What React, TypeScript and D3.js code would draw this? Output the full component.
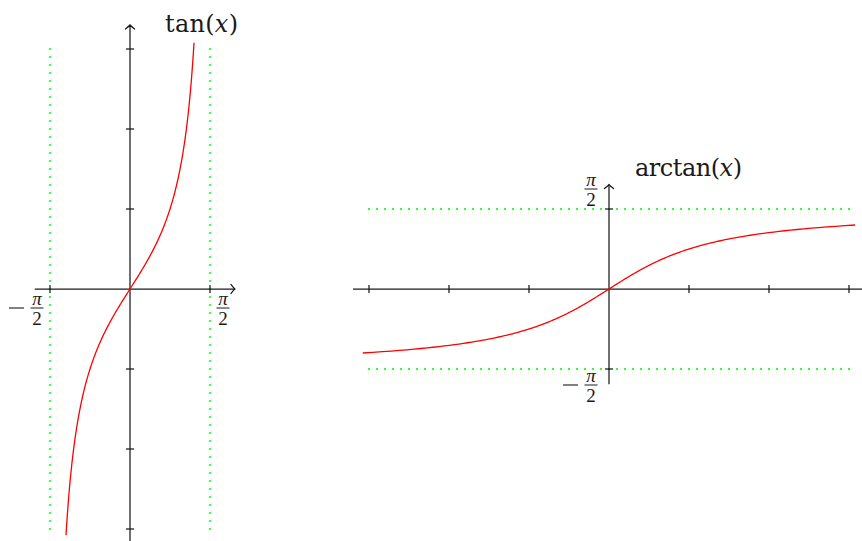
import React from "react";
import * as d3 from "d3";

const W = 862;
const H = 541;
const HALF_PI = Math.PI / 2;

// Parameter range of the plotted branch: t in [-0.4π, 0.4π]
const paramRange = [-0.4 * Math.PI, 0.4 * Math.PI];
const sampleCount = 200;

// Left panel (tan)
const tanXAxis = [-1.87, 2.06];
const tanYAxis = [-3.2, 3.3];
const tanYTicks = [-3, -2, -1, 1, 2, 3];
const tanXTicks = [-HALF_PI, HALF_PI];
const tanAsymptotes = [-HALF_PI, HALF_PI];
const tanAsymptoteSpan = [-3, 3];

// Right panel (arctan)
const atanXAxis = [-3.2, 3.3];
const atanYAxis = [-1.87, 2.05];
const atanXTicks = [-3, -2, -1, 1, 2, 3];
const atanYTicks = [-HALF_PI, HALF_PI];
const atanAsymptotes = [-HALF_PI, HALF_PI];
const atanAsymptoteSpan = [-3, 3];

const FONT = "'DejaVu Serif', 'Liberation Serif', serif";
const FRAC_FONT = "'Liberation Serif', 'DejaVu Serif', serif";
const AXIS = "#1a1a1a";
const RED = "#ff0000";
const GREEN = "#00ff00";
const AXIS_W = 1.25;

const xL = d3.scaleLinear().domain([-HALF_PI, HALF_PI]).range([50, 210]);
const yL = d3.scaleLinear().domain([-3, 3]).range([529, 49]);
const xR = d3.scaleLinear().domain([-3, 3]).range([369, 849]);
const yR = d3.scaleLinear().domain([-HALF_PI, HALF_PI]).range([369, 209]);

const params = d3
  .range(sampleCount + 1)
  .map((i) => paramRange[0] + ((paramRange[1] - paramRange[0]) * i) / sampleCount);

const tanPts: [number, number][] = params.map((t) => [t, Math.tan(t)]);
const atanPts: [number, number][] = params.map((t) => [Math.tan(t), t]);

const tanLine = d3
  .line<[number, number]>()
  .x((d) => xL(d[0]))
  .y((d) => yL(d[1]));
const atanLine = d3
  .line<[number, number]>()
  .x((d) => xR(d[0]))
  .y((d) => yR(d[1]));

function Arrow({ x, y, dir }: { x: number; y: number; dir: "up" | "right" }) {
  const rot = dir === "up" ? -90 : 0;
  return (
    <path
      d="M -4,-4.6 Q -1.3,-1 0,0 Q -1.3,1 -4,4.6"
      transform={`translate(${x},${y}) rotate(${rot})`}
      fill="none"
      stroke={AXIS}
      strokeWidth={AXIS_W}
      strokeLinecap="round"
    />
  );
}

function Frac({ cx, barY, neg }: { cx: number; barY: number; neg?: boolean }) {
  return (
    <g fontFamily={FRAC_FONT} fill="#1a1a1a">
      {neg && (
        <line x1={cx - 28} x2={cx - 13} y1={barY} y2={barY} stroke="#1a1a1a" strokeWidth={1.1} />
      )}
      <text x={cx} y={barY - 3} fontSize={19} fontStyle="italic" textAnchor="middle">
        π
      </text>
      <line x1={cx - 6.5} x2={cx + 6.5} y1={barY} y2={barY} stroke="#1a1a1a" strokeWidth={1} />
      <text x={cx} y={barY + 17} fontSize={19} textAnchor="middle">
        2
      </text>
    </g>
  );
}

export default function App() {
  return (
    <svg
      width={W}
      height={H}
      viewBox={`0 0 ${W} ${H}`}
      style={{ position: "absolute", left: 0, top: 0, display: "block", background: "#fff" }}
    >
      {/* tan panel */}
      <g>
        {tanAsymptotes.map((a) => (
          <line
            key={a}
            x1={xL(a)}
            x2={xL(a)}
            y1={yL(tanAsymptoteSpan[1]) - 0.8}
            y2={yL(tanAsymptoteSpan[0]) + 0.8}
            stroke={GREEN}
            strokeWidth={2.2}
            strokeDasharray="1.6 6.4"
          />
        ))}
        <line x1={xL(tanXAxis[0])} x2={xL(tanXAxis[1])} y1={yL(0)} y2={yL(0)} stroke={AXIS} strokeWidth={AXIS_W} />
        <line x1={xL(0)} x2={xL(0)} y1={yL(tanYAxis[0])} y2={yL(tanYAxis[1])} stroke={AXIS} strokeWidth={AXIS_W} />
        <Arrow x={xL(tanXAxis[1])} y={yL(0)} dir="right" />
        <Arrow x={xL(0)} y={yL(tanYAxis[1])} dir="up" />
        {tanYTicks.map((v) => (
          <line key={v} x1={xL(0) - 4} x2={xL(0) + 4} y1={yL(v)} y2={yL(v)} stroke={AXIS} strokeWidth={AXIS_W} />
        ))}
        {tanXTicks.map((v) => (
          <line key={v} x1={xL(v)} x2={xL(v)} y1={yL(0) - 4} y2={yL(0) + 4} stroke={AXIS} strokeWidth={AXIS_W} />
        ))}
        <path d={tanLine(tanPts) ?? ""} fill="none" stroke={RED} strokeWidth={1.3} />
        <Frac cx={37} barY={308} neg />
        <Frac cx={223} barY={308} />
        <text
          x={165}
          y={32}
          fontFamily={FONT}
          fontSize={24}
          fill="#1a1a1a"
          textLength={73}
          lengthAdjust="spacing"
        >
          tan(<tspan fontStyle="italic">x</tspan>)
        </text>
      </g>

      {/* arctan panel */}
      <g>
        {atanAsymptotes.map((a) => (
          <line
            key={a}
            x1={xR(atanAsymptoteSpan[0]) - 0.8}
            x2={xR(atanAsymptoteSpan[1]) + 0.8}
            y1={yR(a)}
            y2={yR(a)}
            stroke={GREEN}
            strokeWidth={2.2}
            strokeDasharray="1.6 6.4"
          />
        ))}
        <line x1={xR(atanXAxis[0])} x2={xR(atanXAxis[1])} y1={yR(0)} y2={yR(0)} stroke={AXIS} strokeWidth={AXIS_W} />
        <line x1={xR(0)} x2={xR(0)} y1={yR(atanYAxis[0])} y2={yR(atanYAxis[1])} stroke={AXIS} strokeWidth={AXIS_W} />
        <Arrow x={xR(atanXAxis[1])} y={yR(0)} dir="right" />
        <Arrow x={xR(0)} y={yR(atanYAxis[1])} dir="up" />
        {atanXTicks.map((v) => (
          <line key={v} x1={xR(v)} x2={xR(v)} y1={yR(0) - 4} y2={yR(0) + 4} stroke={AXIS} strokeWidth={AXIS_W} />
        ))}
        {atanYTicks.map((v) => (
          <line key={v} x1={xR(0) - 4} x2={xR(0) + 4} y1={yR(v)} y2={yR(v)} stroke={AXIS} strokeWidth={AXIS_W} />
        ))}
        <path d={atanLine(atanPts) ?? ""} fill="none" stroke={RED} strokeWidth={1.3} />
        <Frac cx={591} barY={189} />
        <Frac cx={591} barY={385} neg />
        <text
          x={635}
          y={176}
          fontFamily={FONT}
          fontSize={24}
          fill="#1a1a1a"
          textLength={107}
          lengthAdjust="spacing"
        >
          arctan(<tspan fontStyle="italic">x</tspan>)
        </text>
      </g>
    </svg>
  );
}
